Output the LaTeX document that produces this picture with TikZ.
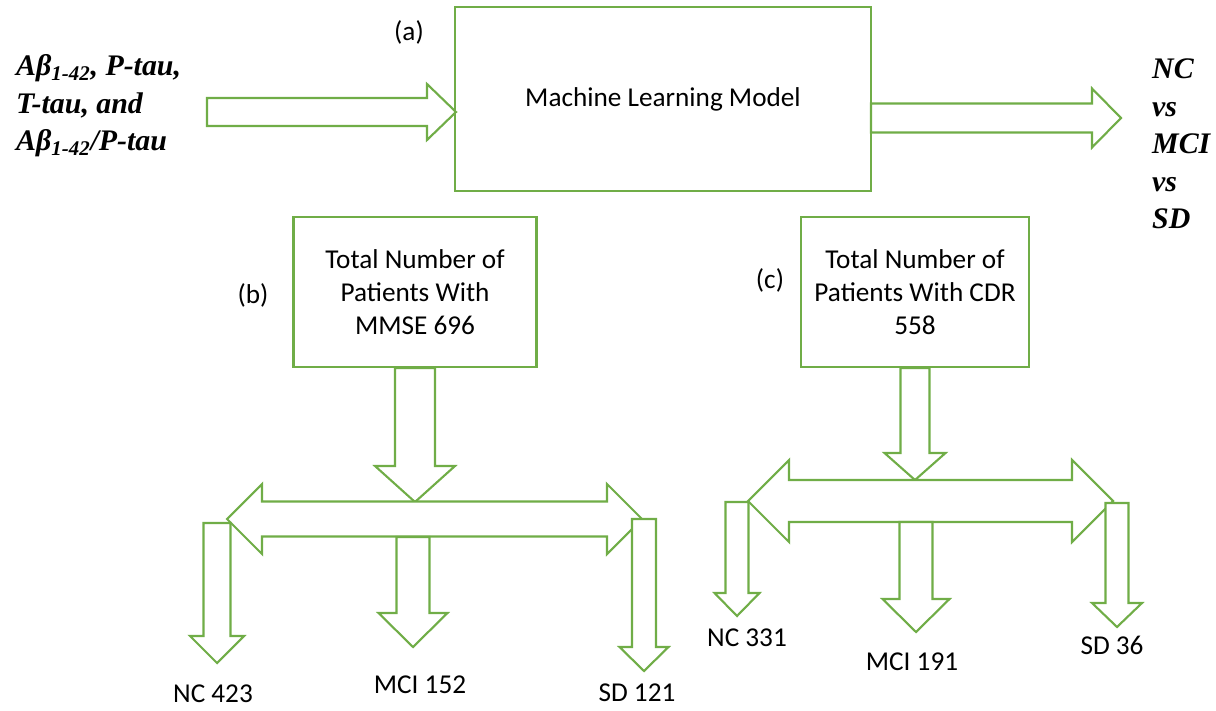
\documentclass[tikz,border=0pt]{standalone}
\usepackage{fontspec}
\setmainfont{Carlito}
\newfontfamily\timesbi{Liberation Serif}
\usetikzlibrary{positioning, calc}

\definecolor{mlgreen}{RGB}{112,173,71}

\tikzset{
    box/.style={draw=mlgreen, line width=1.2pt, align=center, inner sep=0pt},
    flow/.style={draw=mlgreen, fill=white, line width=1.2pt},
    tag/.style={font=\fontsize{15.5}{19}\selectfont},
    bigtext/.style={align=left, font=\timesbi\bfseries\itshape\fontsize{17}{21.4}\selectfont},
    fat/.style args={#1/#2/#3}{to path={
        ($(\tikztostart)!#1!90:(\tikztotarget)$)
        -- ($(\tikztotarget)!#3!(\tikztostart)!#1!-90:(\tikztostart)$)
        -- ($(\tikztotarget)!#3!(\tikztostart)!#2!-90:(\tikztostart)$)
        -- (\tikztotarget)
        -- ($(\tikztotarget)!#3!(\tikztostart)!#2!90:(\tikztostart)$)
        -- ($(\tikztotarget)!#3!(\tikztostart)!#1!90:(\tikztostart)$)
        -- ($(\tikztostart)!#1!-90:(\tikztotarget)$) -- cycle}},
    dfat/.style args={#1/#2/#3}{to path={
        ($(\tikztostart)!#3!(\tikztotarget)!#2!90:(\tikztotarget)$)
        -- ($(\tikztostart)!#3!(\tikztotarget)!#1!90:(\tikztotarget)$)
        -- ($(\tikztotarget)!#3!(\tikztostart)!#1!-90:(\tikztostart)$)
        -- ($(\tikztotarget)!#3!(\tikztostart)!#2!-90:(\tikztostart)$)
        -- (\tikztotarget)
        -- ($(\tikztotarget)!#3!(\tikztostart)!#2!90:(\tikztostart)$)
        -- ($(\tikztotarget)!#3!(\tikztostart)!#1!90:(\tikztostart)$)
        -- ($(\tikztostart)!#3!(\tikztotarget)!#1!-90:(\tikztotarget)$)
        -- ($(\tikztostart)!#3!(\tikztotarget)!#2!-90:(\tikztotarget)$)
        -- (\tikztostart) -- cycle}},
}

\begin{document}
\begin{tikzpicture}[x=0.02cm, y=-0.02cm, font=\fontsize{15.5}{18.9}\selectfont]
    \useasboundingbox (0,0) rectangle (1216,710);

    \node [box, minimum width=8.32cm, minimum height=3.68cm] (M) at (663,99) {Machine Learning Model};
    \node [box, minimum width=4.86cm, minimum height=3cm] (B) at (415,292) {Total Number of\\Patients With\\MMSE 696};
    \node [box, minimum width=4.56cm, minimum height=3cm] (C) at (915,292) {Total Number of\\Patients With CDR\\558};

    \node [tag] (La) at (409,32) {(a)};
    \node [tag] (Lb) at (253,295) {(b)};
    \node [tag] (Lc) at (770,280) {(c)};

    \node [bigtext, anchor=west] (In) at (10,106) {Aβ\textsubscript{1-42}, P-tau,\\T-tau, and\\Aβ\textsubscript{1-42}/P-tau};
    \node [bigtext, anchor=west] (Out) at (1146,144) {NC\\vs\\MCI\\vs\\SD};

    \node (NCb) at (213,694) {NC 423};
    \node (MCIb) at (420,685) {MCI 152};
    \node (SDb) at (637,693) {SD 121};
    \node (NCc) at (747,638) {NC 331};
    \node (MCIc) at (912,662) {MCI 191};
    \node (SDc) at (1112,645) {SD 36};

    \coordinate (in1) at (207,112);
    \coordinate (in2) at (456,112);
    \coordinate (out1) at (871,118);
    \coordinate (out2) at (1121,118);
    \draw [flow] (in1) to [fat=0.28cm/0.56cm/0.58cm] (in2);
    \draw [flow] (out1) to [fat=0.29cm/0.59cm/0.58cm] (out2);

    \coordinate (bt) at (415,502);
    \coordinate (bl) at (227,519);
    \coordinate (br) at (642,519);
    \coordinate (b1) at (217,523);
    \coordinate (b1e) at (217,663);
    \coordinate (b2) at (413,537);
    \coordinate (b2e) at (413,647);
    \coordinate (b3) at (644,519);
    \coordinate (b3e) at (644,671);
    \draw [flow] (B.south) to [fat=0.4cm/0.8cm/0.72cm] (bt);
    \draw [flow] (bl) to [dfat=0.35cm/0.7cm/0.7cm] (br);
    \draw [flow] (b1) to [fat=0.27cm/0.54cm/0.54cm] (b1e);
    \draw [flow] (b2) to [fat=0.33cm/0.69cm/0.68cm] (b2e);
    \draw [flow] (b3) to [fat=0.24cm/0.49cm/0.48cm] (b3e);

    \coordinate (ct) at (915,480);
    \coordinate (cl) at (748,501);
    \coordinate (cr) at (1113,501);
    \coordinate (c1) at (737,502);
    \coordinate (c1e) at (737,616);
    \coordinate (c2) at (916,522);
    \coordinate (c2e) at (916,632);
    \coordinate (c3) at (1117,503);
    \coordinate (c3e) at (1117,627);
    \draw [flow] (C.south) to [fat=0.29cm/0.61cm/0.54cm] (ct);
    \draw [flow] (cl) to [dfat=0.42cm/0.82cm/0.82cm] (cr);
    \draw [flow] (c1) to [fat=0.23cm/0.45cm/0.46cm] (c1e);
    \draw [flow] (c2) to [fat=0.33cm/0.67cm/0.66cm] (c2e);
    \draw [flow] (c3) to [fat=0.23cm/0.5cm/0.48cm] (c3e);
\end{tikzpicture}
\end{document}
